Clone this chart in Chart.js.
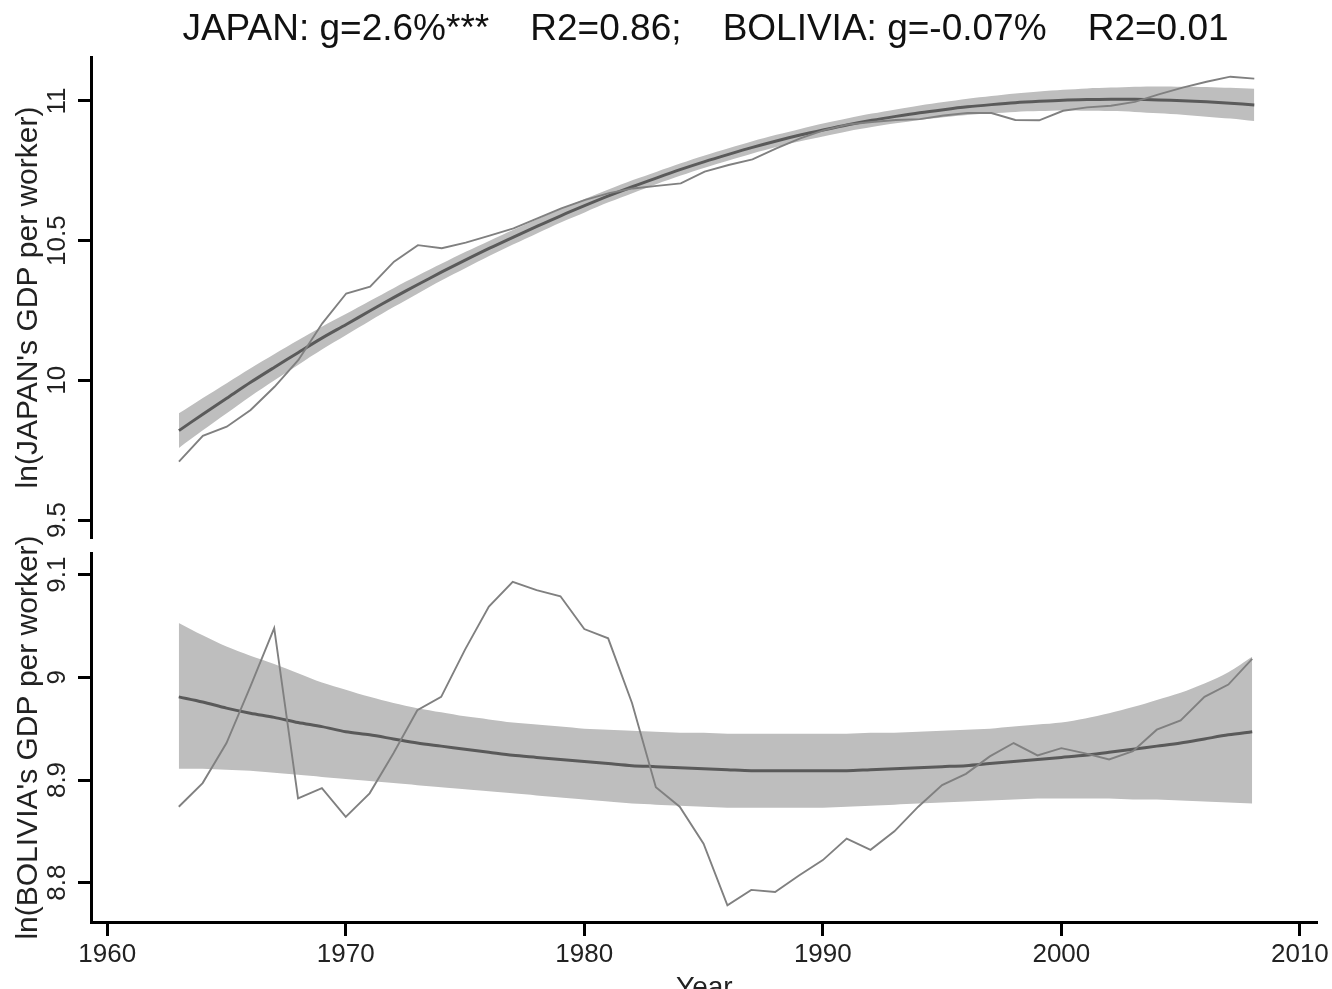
<!DOCTYPE html>
<html>
<head>
<meta charset="utf-8">
<script src="https://cdn.jsdelivr.net/npm/chart.js@4.4.1/dist/chart.umd.min.js"></script>
<style>
  body { margin: 0; background: #fff; }
  canvas { position: absolute; left: 0; top: 0; }
</style>
</head>
<body>
<canvas id="japanChart" width="1332" height="989"></canvas>
<canvas id="boliviaChart" width="1332" height="989"></canvas>
<script>
// data
const years = [1963, 1964, 1965, 1966, 1967, 1968, 1969, 1970, 1971, 1972,
  1973, 1974, 1975, 1976, 1977, 1978, 1979, 1980, 1981, 1982,
  1983, 1984, 1985, 1986, 1987, 1988, 1989, 1990, 1991, 1992,
  1993, 1994, 1995, 1996, 1997, 1998, 1999, 2000, 2001, 2002,
  2003, 2004, 2005, 2006, 2007, 2008];

const japanGdp = [9.709, 9.801, 9.834, 9.894, 9.977, 10.073, 10.204, 10.311, 10.335, 10.425,
  10.484, 10.473, 10.493, 10.518, 10.544, 10.580, 10.616, 10.646, 10.670, 10.687,
  10.696, 10.705, 10.747, 10.771, 10.791, 10.830, 10.866, 10.896, 10.916, 10.925,
  10.932, 10.935, 10.948, 10.957, 10.957, 10.932, 10.931, 10.965, 10.977, 10.983,
  10.997, 11.024, 11.048, 11.069, 11.087, 11.080];
const japanFit = [9.820, 9.879, 9.936, 9.993, 10.047, 10.100, 10.152, 10.200, 10.249, 10.297,
  10.343, 10.388, 10.431, 10.473, 10.513, 10.552, 10.590, 10.626, 10.661, 10.694,
  10.725, 10.755, 10.783, 10.809, 10.834, 10.857, 10.878, 10.897, 10.915, 10.931,
  10.945, 10.958, 10.969, 10.979, 10.987, 10.994, 10.999, 11.003, 11.005, 11.006,
  11.006, 11.004, 11.001, 10.997, 10.992, 10.986];
const japanUpper = [9.882, 9.937, 9.990, 10.043, 10.094, 10.144, 10.193, 10.238, 10.285, 10.331,
  10.375, 10.418, 10.460, 10.500, 10.539, 10.577, 10.614, 10.650, 10.684, 10.717,
  10.747, 10.777, 10.805, 10.831, 10.856, 10.879, 10.900, 10.920, 10.938, 10.955,
  10.970, 10.984, 10.996, 11.008, 11.018, 11.027, 11.034, 11.040, 11.045, 11.048,
  11.051, 11.052, 11.051, 11.050, 11.047, 11.044];
const japanLower = [9.758, 9.821, 9.882, 9.943, 10.000, 10.056, 10.111, 10.162, 10.213, 10.263,
  10.311, 10.358, 10.402, 10.446, 10.487, 10.527, 10.566, 10.602, 10.638, 10.671,
  10.703, 10.733, 10.761, 10.787, 10.812, 10.835, 10.856, 10.874, 10.892, 10.907,
  10.920, 10.932, 10.942, 10.950, 10.956, 10.961, 10.964, 10.966, 10.965, 10.964,
  10.961, 10.956, 10.951, 10.944, 10.937, 10.928];

const boliviaGdp = [8.874, 8.897, 8.936, 8.991, 9.048, 8.882, 8.892, 8.864, 8.887, 8.926,
  8.968, 8.981, 9.027, 9.069, 9.093, 9.085, 9.079, 9.047, 9.038, 8.975,
  8.893, 8.874, 8.838, 8.778, 8.793, 8.791, 8.807, 8.822, 8.843, 8.832,
  8.850, 8.874, 8.895, 8.906, 8.923, 8.936, 8.924, 8.931, 8.926, 8.920,
  8.928, 8.949, 8.958, 8.981, 8.993, 9.018];
const boliviaFit = [8.981, 8.976, 8.970, 8.965, 8.961, 8.956, 8.952, 8.947, 8.944, 8.940,
  8.936, 8.933, 8.930, 8.927, 8.924, 8.922, 8.920, 8.918, 8.916, 8.914,
  8.913, 8.912, 8.911, 8.910, 8.909, 8.909, 8.909, 8.909, 8.909, 8.910,
  8.911, 8.912, 8.913, 8.914, 8.916, 8.918, 8.920, 8.922, 8.924, 8.927,
  8.930, 8.933, 8.936, 8.940, 8.944, 8.947];
const boliviaUpper = [9.053, 9.041, 9.030, 9.021, 9.013, 9.004, 8.995, 8.988, 8.981, 8.975,
  8.970, 8.966, 8.962, 8.959, 8.956, 8.954, 8.952, 8.950, 8.949, 8.948,
  8.947, 8.946, 8.946, 8.945, 8.945, 8.945, 8.945, 8.945, 8.945, 8.946,
  8.946, 8.947, 8.948, 8.949, 8.950, 8.952, 8.954, 8.956, 8.960, 8.965,
  8.971, 8.978, 8.985, 8.994, 9.005, 9.020];
const boliviaLower = [8.911, 8.911, 8.910, 8.909, 8.907, 8.905, 8.903, 8.901, 8.899, 8.897,
  8.895, 8.893, 8.891, 8.889, 8.887, 8.885, 8.883, 8.881, 8.879, 8.877,
  8.876, 8.875, 8.874, 8.873, 8.873, 8.873, 8.873, 8.873, 8.874, 8.875,
  8.876, 8.877, 8.878, 8.879, 8.880, 8.881, 8.882, 8.882, 8.882, 8.882,
  8.881, 8.881, 8.880, 8.879, 8.878, 8.877];

const japanTicks = [9.5, 10, 10.5, 11];
const boliviaTicks = [8.8, 8.9, 9, 9.1];
const yearTicks = [1960, 1970, 1980, 1990, 2000, 2010];
const chartTitle = "JAPAN: g=2.6%***    R2=0.86;    BOLIVIA: g=-0.07%    R2=0.01";

const FONT = "'Liberation Sans', Arial, sans-serif";

const pts = vals => years.map((yr, i) => ({x: yr, y: vals[i]}));

const panelData = (gdp, fit, upper, lower) => ({
    datasets: [
        {data: pts(gdp), borderColor: "#808080", borderWidth: 1.9, pointRadius: 0, fill: false},
        {data: pts(fit), borderColor: "#5a5a5a", borderWidth: 3, pointRadius: 0, fill: false, tension: 0.3},
        {data: pts(upper), borderColor: "rgba(0,0,0,0)", borderWidth: 0, pointRadius: 0,
            backgroundColor: "#bebebe", fill: "+1", tension: 0.3},
        {data: pts(lower), borderColor: "rgba(0,0,0,0)", borderWidth: 0, pointRadius: 0, fill: false, tension: 0.3}
    ]
});

// tickPad differs per panel: labels are centred with half the widest (unrotated) label
const yAxis = (label, tickVals, min, max, tickPad) => ({
    type: "linear",
    position: "left",
    min: min,
    max: max,
    afterBuildTicks: s => { s.ticks = tickVals.map(v => ({value: v})); },
    afterFit: s => { s.width = 91; },
    grid: {drawOnChartArea: false, drawTicks: true, tickLength: 13, tickWidth: 3, tickColor: "#000"},
    border: {display: true, width: 3, color: "#000"},
    ticks: {
        minRotation: 90, maxRotation: 90, crossAlign: "center", padding: tickPad,
        color: "#222", font: {family: FONT, size: 26},
        callback: v => String(+v.toFixed(1))
    },
    title: {display: true, text: label, color: "#222", font: {family: FONT, size: 30},
        padding: {top: 11, bottom: 0}}
});

const xAxis = show => ({
    type: "linear",
    min: 1959.32,
    max: 2010.75,
    display: show,
    afterBuildTicks: s => { s.ticks = yearTicks.map(v => ({value: v})); },
    afterFit: s => { if (show) s.height = 67; },
    grid: {drawOnChartArea: false, drawTicks: true, tickLength: 14, tickWidth: 3, tickColor: "#000"},
    border: {display: true, width: 3, color: "#000"},
    ticks: {padding: 3, maxRotation: 0, color: "#222", font: {family: FONT, size: 26},
        callback: v => String(v)},
    title: {display: true, text: "Year", color: "#222", font: {family: FONT, size: 28},
        padding: {top: 0, bottom: -16}}
});

const baseOptions = {
    responsive: false,
    animation: false,
    events: [],
    plugins: {legend: {display: false}, tooltip: {enabled: false}}
};

new Chart(document.getElementById("japanChart"), {
    type: "line",
    data: panelData(japanGdp, japanFit, japanUpper, japanLower),
    options: {
        ...baseOptions,
        layout: {padding: {top: 0, bottom: 451, left: 0, right: 12}},
        plugins: {
            ...baseOptions.plugins,
            title: {display: true, text: chartTitle, fullSize: false, color: "#111",
                font: {family: FONT, size: 37, weight: "normal"}, padding: {top: 8, bottom: 4.6}}
        },
        scales: {
            x: xAxis(false),
            y: yAxis("ln(JAPAN's GDP per worker)", japanTicks, 9.4356, 11.1575, -5)
        }
    }
});

new Chart(document.getElementById("boliviaChart"), {
    type: "line",
    data: panelData(boliviaGdp, boliviaFit, boliviaUpper, boliviaLower),
    options: {
        ...baseOptions,
        layout: {padding: {top: 553, bottom: 0, left: 0, right: 12}},
        scales: {
            x: xAxis(true),
            y: yAxis("ln(BOLIVIA's GDP per worker)", boliviaTicks, 8.7617, 9.1211, 2)
        }
    }
});
</script>
</body>
</html>
